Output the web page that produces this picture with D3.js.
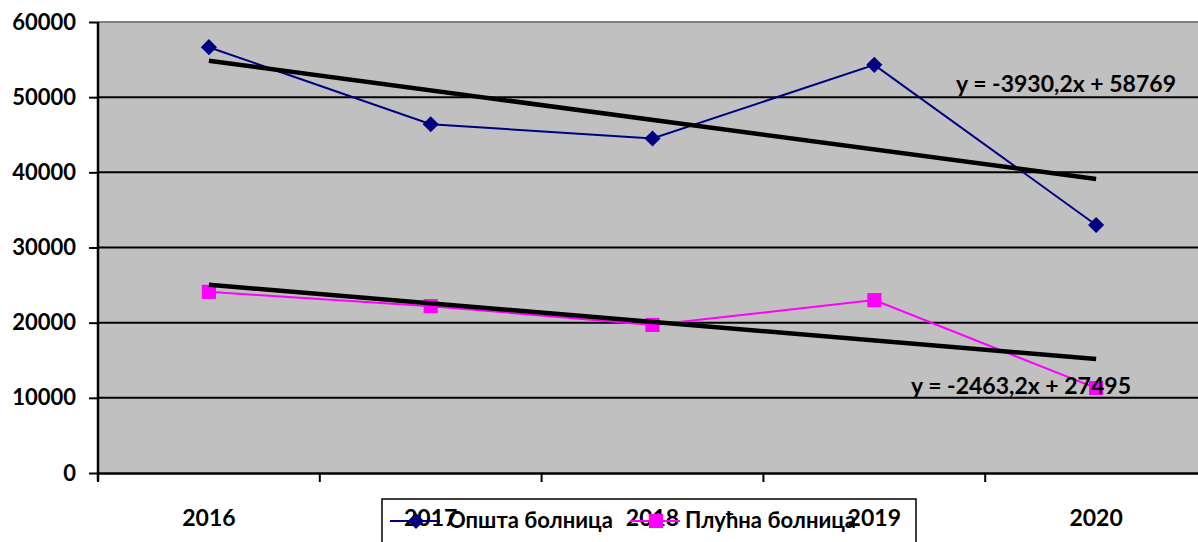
<!DOCTYPE html>
<html>
<head>
<meta charset="utf-8">
<script src="https://cdn.jsdelivr.net/npm/d3@7"></script>
<style>
  body { margin: 0; background: #fff; }
  svg { display: block; font-family: Lato, "Open Sans", sans-serif; font-weight: bold; }
</style>
</head>
<body>
<div id="chart"></div>
<script>
// chart data
const years = ["2016", "2017", "2018", "2019", "2020"];
const opstaValues = [56650, 46400, 44500, 54300, 33000];
const plucnaValues = [24100, 22200, 19700, 23000, 11300];
const seriesNames = ["Општа болница", "Плућна болница"];
const trendSlopes = [-3930.2, -2463.2];
const trendIntercepts = [58769, 27495];
const trendLabels = ["y = -3930,2x + 58769", "y = -2463,2x + 27495"];
const yTicks = [0, 10000, 20000, 30000, 40000, 50000, 60000];

const width = 1198, height = 542;
const margin = {top: 22, left: 98, bottom: 69};
const plotWidth = 1109;
const plotHeight = height - margin.top - margin.bottom;

const svg = d3.select("#chart").append("svg")
    .attr("width", width)
    .attr("height", height);

const g = svg.append("g")
    .attr("transform", `translate(${margin.left},${margin.top})`);

const x = d3.scaleBand()
    .domain(years)
    .range([0, plotWidth]);

const y = d3.scaleLinear()
    .domain([0, 60000])
    .range([plotHeight, 0]);

// plot background
g.append("rect")
    .attr("width", plotWidth)
    .attr("height", plotHeight)
    .attr("fill", "#c0c0c0");

g.append("line")
    .attr("x1", 0).attr("x2", plotWidth)
    .attr("y1", 0).attr("y2", 0)
    .attr("stroke", "#808080")
    .attr("stroke-width", 2);

// gridlines
g.selectAll(".grid")
    .data(yTicks.filter(d => d > 0 && d < 60000))
    .enter().append("line")
    .attr("class", "grid")
    .attr("x1", 0).attr("x2", plotWidth)
    .attr("y1", d => y(d)).attr("y2", d => y(d))
    .attr("stroke", "#000")
    .attr("stroke-width", 2);

// y axis
const yAxis = g.append("g")
    .call(d3.axisLeft(y).tickValues(yTicks).tickSize(9).tickPadding(13).tickFormat(d3.format("d")));
yAxis.select(".domain").attr("stroke-width", 2.5).attr("d", `M0,0V${plotHeight + 8}`);
yAxis.selectAll(".tick line").attr("stroke-width", 2);
yAxis.selectAll("text")
    .attr("font-size", 22)
    .attr("font-weight", "bold")
    .attr("font-family", "Lato, sans-serif")
    .attr("fill", "#000");

// x axis
const xAxis = g.append("g")
    .attr("transform", `translate(0,${plotHeight})`)
    .call(d3.axisBottom(x).tickSize(0).tickPadding(37));
xAxis.select(".domain").attr("stroke-width", 2.5);
xAxis.selectAll("text")
    .attr("font-size", 23)
    .attr("font-weight", "bold")
    .attr("font-family", "Lato, sans-serif")
    .attr("fill", "#000");

// category boundary ticks
g.selectAll(".xtick")
    .data(years)
    .enter().append("line")
    .attr("x1", d => x(d)).attr("x2", d => x(d))
    .attr("y1", plotHeight).attr("y2", plotHeight + 9)
    .attr("stroke", "#000")
    .attr("stroke-width", 2);

const cx = d => x(d) + x.bandwidth() / 2;
const line = d3.line()
    .x((d, i) => cx(years[i]))
    .y(d => y(d));

const series = [
    {values: opstaValues, color: "#000080", rotate: 45, size: 130},
    {values: plucnaValues, color: "#ff00ff", rotate: 0, size: 200}
];

// data lines + markers
series.forEach(s => {
    g.append("path")
        .datum(s.values)
        .attr("d", line)
        .attr("fill", "none")
        .attr("stroke", s.color)
        .attr("stroke-width", 2);
    g.selectAll(null)
        .data(s.values)
        .enter().append("path")
        .attr("transform", (d, i) => `translate(${cx(years[i])},${y(d)}) rotate(${s.rotate})`)
        .attr("d", d3.symbol().type(d3.symbolSquare).size(s.size))
        .attr("fill", s.color);
});

// linear trend lines
trendSlopes.forEach((slope, k) => {
    const ends = [1, years.length];
    g.append("line")
        .attr("x1", cx(years[0]))
        .attr("x2", cx(years[years.length - 1]))
        .attr("y1", y(slope * ends[0] + trendIntercepts[k]))
        .attr("y2", y(slope * ends[1] + trendIntercepts[k]))
        .attr("stroke", "#000")
        .attr("stroke-width", 4.5);
});

// trend equations
const eqPos = [[1066, 92], [1021, 394]];
trendLabels.forEach((t, k) => {
    svg.append("text")
        .attr("x", eqPos[k][0])
        .attr("y", eqPos[k][1])
        .attr("text-anchor", "middle")
        .attr("font-size", 23)
        .text(t);
});

// legend
const legend = svg.append("g").attr("transform", "translate(382,499)");
legend.append("rect")
    .attr("width", 534)
    .attr("height", 60)
    .attr("fill", "none")
    .attr("stroke", "#000")
    .attr("stroke-width", 1.5);

const legendItems = [{x: 8, tx: 66}, {x: 248, tx: 303}];
series.forEach((s, i) => {
    const it = legend.append("g").attr("transform", `translate(${legendItems[i].x},22)`);
    it.append("line")
        .attr("x1", 0).attr("x2", 50)
        .attr("stroke", s.color)
        .attr("stroke-width", 2);
    it.append("path")
        .attr("transform", `translate(26,0) rotate(${s.rotate})`)
        .attr("d", d3.symbol().type(d3.symbolSquare).size(s.size))
        .attr("fill", s.color);
    legend.append("text")
        .attr("x", legendItems[i].tx)
        .attr("y", 29)
        .attr("font-size", 22)
        .text(seriesNames[i]);
});
</script>
</body>
</html>
